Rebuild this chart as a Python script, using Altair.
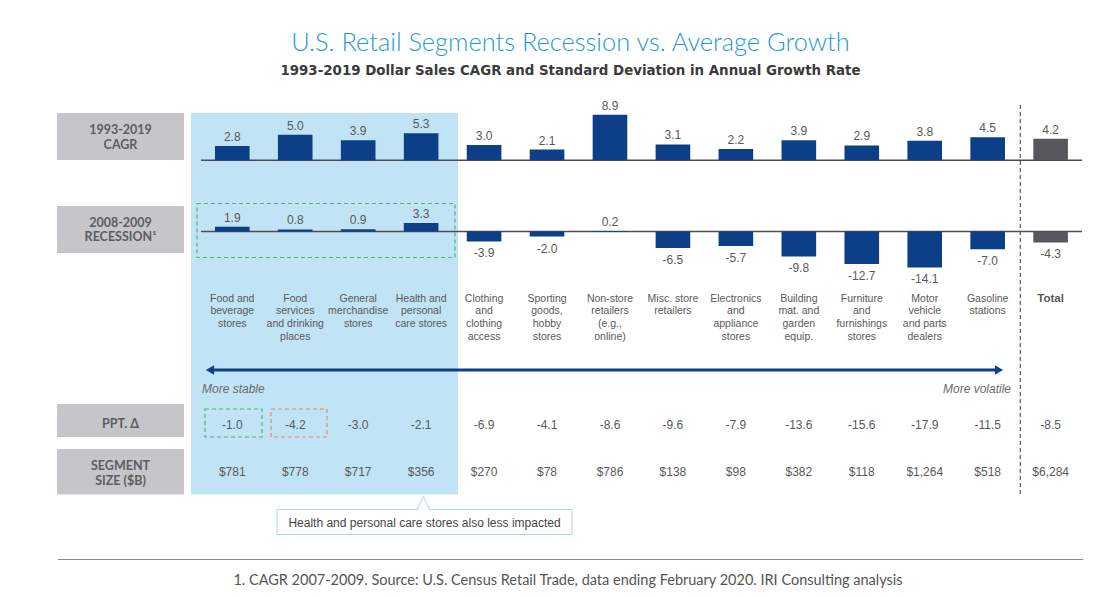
import altair as alt
import pandas as pd

# ---------------- data ----------------
categories = [
    "Food and beverage stores", "Food services and drinking places",
    "General merchandise stores", "Health and personal care stores",
    "Clothing and clothing access", "Sporting goods, hobby stores",
    "Non-store retailers (e.g., online)", "Misc. store retailers",
    "Electronics and appliance stores", "Building mat. and garden equip.",
    "Furniture and furnishings stores", "Motor vehicle and parts dealers",
    "Gasoline stations", "Total",
]
category_labels = [
    "Food and\nbeverage\nstores", "Food\nservices\nand drinking\nplaces",
    "General\nmerchandise\nstores", "Health and\npersonal\ncare stores",
    "Clothing\nand\nclothing\naccess", "Sporting\ngoods,\nhobby\nstores",
    "Non-store\nretailers\n(e.g.,\nonline)", "Misc. store\nretailers",
    "Electronics\nand\nappliance\nstores", "Building\nmat. and\ngarden\nequip.",
    "Furniture\nand\nfurnishings\nstores", "Motor\nvehicle\nand parts\ndealers",
    "Gasoline\nstations", "Total",
]
cagr = [2.8, 5.0, 3.9, 5.3, 3.0, 2.1, 8.9, 3.1, 2.2, 3.9, 2.9, 3.8, 4.5, 4.2]
recession = [1.9, 0.8, 0.9, 3.3, -3.9, -2.0, 0.2, -6.5, -5.7, -9.8, -12.7, -14.1, -7.0, -4.3]
ppt_delta = [-1.0, -4.2, -3.0, -2.1, -6.9, -4.1, -8.6, -9.6, -7.9, -13.6, -15.6, -17.9, -11.5, -8.5]
segment_size = ["$781", "$778", "$717", "$356", "$270", "$78", "$786", "$138",
                 "$98", "$382", "$118", "$1,264", "$518", "$6,284"]
row_labels = ["1993-2019\nCAGR", "2008-2009\nRECESSION\u00b9", "PPT. \u0394", "SEGMENT\nSIZE ($B)"]
title_text = "U.S. Retail Segments Recession vs. Average Growth"
subtitle_text = "1993-2019 Dollar Sales CAGR and Standard Deviation in Annual Growth Rate"
footnote_text = "1. CAGR 2007-2009. Source: U.S. Census Retail Trade, data ending February 2020. IRI Consulting analysis"
callout_text = "Health and personal care stores also less impacted"
stable_text = "More stable"
volatile_text = "More volatile"

df = pd.DataFrame({
    "cat": categories,
    "label": category_labels,
    "cagr": cagr,
    "rec": recession,
    "ppt": ppt_delta,
    "size": segment_size,
})
df["cagr_txt"] = [f"{v:.1f}" for v in cagr]
df["rec_txt"] = [f"{v:.1f}" for v in recession]
df["ppt_txt"] = [f"{v:.1f}" for v in ppt_delta]

one = pd.DataFrame({"k": [0]})

# ---------------- style ----------------
NAVY = "#0c3f87"
TOTAL = "#56585e"
BLUE_BG = "#c0e3f5"
GRAY_BOX = "#c6c6ca"
BOX_TXT = "#5c5c64"
VAL_TXT = "#595959"
TITLE = "#1e9ad6"
GREEN = "#4fb37a"
RED = "#e08a73"
CALLOUT = "#a7d6ee"
SANS = "Liberation Sans"
LATO = "Lato"

XS = alt.Scale(type="band", domain=categories, range=[200.8, 1082.1],
               paddingInner=0.45, paddingOuter=0.225)
YC = alt.Scale(domain=[0, 10], range=[160.3, 109.1], nice=False)
YR = alt.Scale(domain=[-15, 5], range=[269.75, 218.75], nice=False)


def xe():
    return alt.X("cat:N", scale=XS, axis=None)


def xt():
    return alt.X("cat:N", scale=XS, axis=None, bandPosition=0.5)


def rect(x0, x1, y0, y1, **kw):
    return alt.Chart(one).mark_rect(**kw).encode(
        x=alt.value(x0), x2=alt.value(x1), y=alt.value(y0), y2=alt.value(y1))


def line(x0, y0, x1, y1, **kw):
    return alt.Chart(one).mark_rule(**kw).encode(
        x=alt.value(x0), y=alt.value(y0), x2=alt.value(x1), y2=alt.value(y1))


def label(text, x, y, **kw):
    return alt.Chart(pd.DataFrame({"t": [text]})).mark_text(**kw).encode(
        x=alt.value(x), y=alt.value(y), text="t:N")


base = alt.Chart(df)
layers = []

# background highlight and row boxes
layers.append(rect(191, 458, 113, 494.5, fill=BLUE_BG))
layers.append(rect(57, 184, 113, 160, fill=GRAY_BOX))
layers.append(rect(57, 184, 206, 253, fill=GRAY_BOX))
layers.append(rect(57, 184, 404, 437, fill=GRAY_BOX))
layers.append(rect(57, 184, 449, 494.5, fill=GRAY_BOX))

box_font = dict(font=LATO, fontWeight="bold", fontSize=12.5, color=BOX_TXT,
                align="center", lineBreak="\n")
layers.append(label(row_labels[0], 120.5, 124.0, baseline="top", lineHeight=14.7, **box_font))
layers.append(label(row_labels[1], 120.5, 216.7, baseline="top", lineHeight=14.7, **box_font))
layers.append(label(row_labels[2], 120.5, 423.5, baseline="middle", **box_font))
layers.append(label(row_labels[3], 120.5, 459.7, baseline="top", lineHeight=15, **box_font))

# baselines
layers.append(line(201, 160.3, 1082, 160.3, color="#4d4d55", strokeWidth=1.5))
layers.append(line(201, 231.5, 1082, 231.5, color="#4d4d55", strokeWidth=1.5))

bar_color = alt.condition(alt.datum.cat == "Total", alt.value(TOTAL), alt.value(NAVY))

# CAGR bars + labels
layers.append(base.mark_bar().encode(
    x=xe(), y=alt.Y("cagr:Q", scale=YC, axis=None), color=bar_color))
val_font = dict(font=SANS, fontSize=12, color=VAL_TXT, align="center")
layers.append(base.mark_text(baseline="alphabetic", dy=-5, **val_font).encode(
    x=xt(), y=alt.Y("cagr:Q", scale=YC, axis=None), text="cagr_txt:N"))

# Recession bars + labels
layers.append(base.mark_bar().encode(
    x=xe(), y=alt.Y("rec:Q", scale=YR, axis=None), color=bar_color))
layers.append(base.transform_filter(alt.datum.rec >= 0).mark_text(
    baseline="alphabetic", dy=-5, **val_font).encode(
    x=xt(), y=alt.Y("rec:Q", scale=YR, axis=None), text="rec_txt:N"))
layers.append(base.transform_filter(alt.datum.rec < 0).mark_text(
    baseline="top", dy=7, **val_font).encode(
    x=xt(), y=alt.Y("rec:Q", scale=YR, axis=None), text="rec_txt:N"))

# category labels
layers.append(base.transform_filter(alt.datum.cat != "Total").mark_text(
    font=SANS, fontSize=10.5, color=VAL_TXT, align="center", baseline="top",
    lineBreak="\n", lineHeight=12.6).encode(
    x=xt(), y=alt.value(293.8), text="label:N"))
layers.append(base.transform_filter(alt.datum.cat == "Total").mark_text(
    font=SANS, fontSize=11.5, fontWeight="bold", color=VAL_TXT, align="center",
    baseline="top").encode(x=xt(), y=alt.value(293.3), text="label:N"))

# ppt and size rows
layers.append(base.mark_text(baseline="middle", **val_font).encode(
    x=xt(), y=alt.value(425), text="ppt_txt:N"))
layers.append(base.mark_text(baseline="middle", **val_font).encode(
    x=xt(), y=alt.value(472), text="size:N"))

# dashed highlight boxes
layers.append(rect(197, 455, 203.5, 257.5, fill="white", fillOpacity=0,
                   stroke=GREEN, strokeWidth=1.2, strokeDash=[4, 3]))
layers.append(rect(205, 262, 409, 437, fill="white", fillOpacity=0,
                   stroke=GREEN, strokeWidth=1.2, strokeDash=[4, 3]))
layers.append(rect(271, 327, 409, 437, fill="white", fillOpacity=0,
                   stroke=RED, strokeWidth=1.2, strokeDash=[4, 3]))

# arrow
layers.append(line(212, 370, 997, 370, color=NAVY, strokeWidth=3))
layers.append(alt.Chart(one).mark_point(shape="triangle-left", filled=True, size=90,
                                        color=NAVY, opacity=1).encode(
    x=alt.value(210), y=alt.value(370)))
layers.append(alt.Chart(one).mark_point(shape="triangle-right", filled=True, size=90,
                                        color=NAVY, opacity=1).encode(
    x=alt.value(999), y=alt.value(370)))
layers.append(label(stable_text, 202, 388.5, font=SANS, fontSize=12, fontStyle="italic",
                    color="#6b6b6b", align="left", baseline="middle"))
layers.append(label(volatile_text, 1011, 388.5, font=SANS, fontSize=12, fontStyle="italic",
                    color="#6b6b6b", align="right", baseline="middle"))

# dashed separator before Total
layers.append(line(1020.3, 105, 1020.3, 497, color="#555555", strokeWidth=1.2,
                   strokeDash=[4, 3]))

# callout
layers.append(rect(277, 572, 509.5, 534.5, fill="white", stroke=CALLOUT, strokeWidth=1))
layers.append(line(418, 509.5, 428.6, 509.5, color="white", strokeWidth=2))
layers.append(line(416.8, 509.5, 423.3, 496.5, color=CALLOUT, strokeWidth=1))
layers.append(line(423.3, 496.5, 429.6, 509.5, color=CALLOUT, strokeWidth=1))
layers.append(label(callout_text, 424.5, 522.5, font=SANS, fontSize=12, color="#454545",
                    align="center", baseline="middle"))

# titles and footer
layers.append(label(title_text, 570.5, 43, font=LATO, fontWeight=300, fontSize=25.4,
                    color=TITLE, align="center", baseline="middle"))
layers.append(label(subtitle_text, 570.5, 71, font="DejaVu Sans", fontWeight="bold",
                    fontSize=13.4, color="#3a3a3a", align="center", baseline="middle"))
layers.append(line(58, 559.5, 1083, 559.5, color="#8a8a8a", strokeWidth=1.2))
layers.append(label(footnote_text, 568, 581, font=LATO, fontSize=14.5, color="#555555",
                    align="center", baseline="middle"))

chart = alt.layer(*layers).resolve_scale(y="independent").properties(
    width=1113, height=597, autosize=alt.AutoSizeParams(type="none"), padding=0,
    background="white",
).configure_view(stroke=None)

chart.save("out.html", embed_options={"renderer": "svg", "actions": False})
